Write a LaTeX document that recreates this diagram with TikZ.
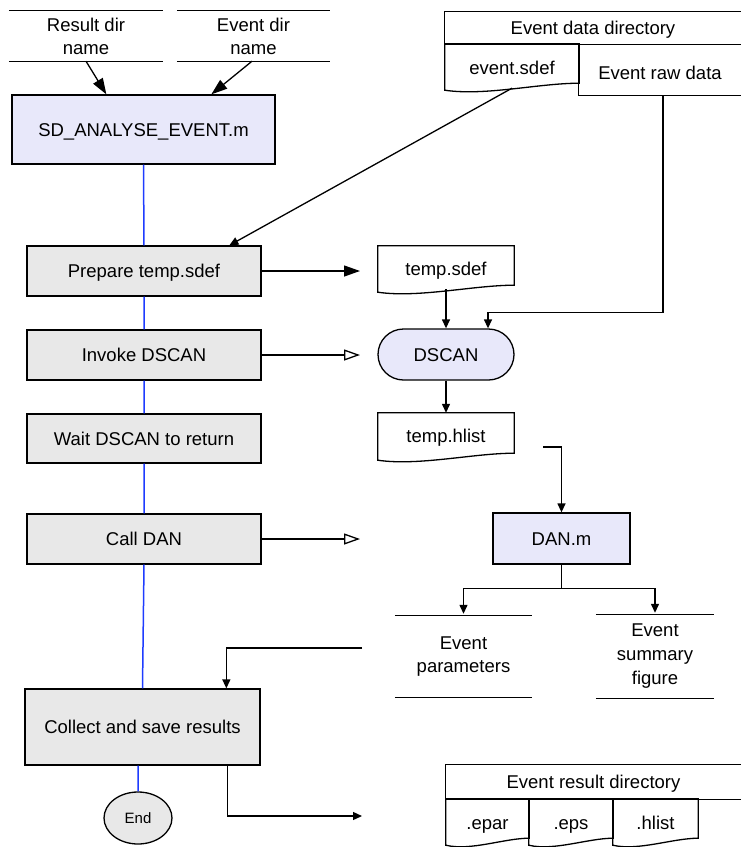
\documentclass[tikz,border=0pt]{standalone}
\usepackage{fontspec}
\setmainfont{Liberation Sans}
\usetikzlibrary{arrows.meta,calc,shapes.misc,shapes.geometric}
\definecolor{procgray}{RGB}{232,232,232}
\definecolor{lav}{RGB}{232,232,250}
\definecolor{flowblue}{RGB}{30,60,255}
\newcommand\docoutline[2]{%
 \draw[ln] (#1.south east) -- (#1.north east) -- (#1.north west) -- ($(#1.south west)+(0,7)$) .. controls ($(#1.south west)+(0.3*#2,13)$) and ($(#1.south east)+(-0.3*#2,0)$) .. (#1.south east) -- cycle;}
\begin{document}
\begin{tikzpicture}[x=1pt,y=-1pt,
  ln/.style={line width=1.3pt},
  mainfont/.style={font=\fontsize{18.5}{23}\selectfont},
  oneline/.style={text height=13.5pt, text depth=0pt},
  doctext/.style={text height=19.5pt, text depth=0pt},
  proc/.style={draw, ln, fill=procgray, inner sep=0pt, mainfont, oneline},
  txt/.style={inner sep=0pt, align=center, mainfont},
  fa/.style={ln, -{Triangle[length=16pt,width=11pt]}},
  oa/.style={ln, -{Triangle[open,length=16pt,width=11pt]}},
  sa/.style={ln, -{Triangle[length=9pt,width=8pt]}}]
\useasboundingbox (0,0) rectangle (741,847);

% inputs
\node[txt, minimum width=154pt, minimum height=50pt] (rdn) at (86,36) {Result dir\\name};
\node[txt, minimum width=153pt, minimum height=50pt] (edn) at (253.5,36) {Event dir\\name};
\draw[ln] (rdn.north west) -- (rdn.north east) (rdn.south west) -- (rdn.south east);
\draw[ln] (edn.north west) -- (edn.north east) (edn.south west) -- (edn.south east);

% main column
\node[proc, fill=lav, minimum width=263pt, minimum height=69pt] (sd) at (143.5,129.5) {SD\_ANALYSE\_EVENT.m};
\node[proc, minimum width=234pt, minimum height=50pt] (prep) at (144,271) {Prepare temp.sdef};
\node[proc, minimum width=234pt, minimum height=50pt] (inv) at (144,355) {Invoke DSCAN};
\node[proc, minimum width=234pt, minimum height=49pt] (wait) at (144,438.5) {Wait DSCAN to return};
\node[proc, minimum width=234pt, minimum height=50pt] (call) at (144,539) {Call DAN};
\node[proc, minimum width=235pt, minimum height=76pt] (coll) at (142.5,727) {Collect and save results};
\node[draw, ln, ellipse, fill=procgray, minimum width=68pt, minimum height=52pt, inner sep=0pt, font=\fontsize{15}{18}\selectfont, text height=11pt, text depth=0pt] (fin) at (138,818) {End};

\draw[line width=1.5pt, flowblue] (sd.south) -- (prep.north) (prep.south) -- (inv.north) (inv.south) -- (wait.north)
  (wait.south) -- (call.north) (call.south) -- (coll.north) (coll.south -| fin.north) -- (fin.north);

% event data directory
\node[txt, oneline, minimum width=296pt, minimum height=32pt] (edd) at (593,28) {Event data directory};
\draw[ln] (edd.north east) -- (edd.north west) -- (edd.south west) -- (edd.south east);
\node[txt, text height=22.5pt, text depth=0pt, minimum width=134pt, minimum height=39pt] (esdef) at (512,63.5) {event.sdef};
\docoutline{esdef}{134}
\node[txt, doctext, minimum width=162pt, minimum height=51pt] (raw) at (660,69.5) {Event raw data};
\draw[ln] (raw.north west) -- (raw.south west) -- (raw.south east);

% right column
\node[txt, doctext, minimum width=136pt, minimum height=39pt] (tsdef) at (446,265.5) {temp.sdef};
\docoutline{tsdef}{136}
\node[draw, ln, rounded rectangle, fill=lav, minimum width=136pt, minimum height=51pt, inner sep=0pt, mainfont, oneline] (dscan) at (446,354.5) {DSCAN};
\node[txt, doctext, minimum width=136pt, minimum height=40pt] (thlist) at (446,433) {temp.hlist};
\docoutline{thlist}{136}
\node[proc, fill=lav, minimum width=137pt, minimum height=51pt] (dan) at (561.5,538.5) {DAN.m};
\node[txt, minimum width=137pt, minimum height=81pt] (ep) at (463.5,656.5) {Event\\parameters};
\draw[ln] (ep.north west) -- (ep.north east) (ep.south west) -- (ep.south east);
\node[txt, minimum width=118pt, minimum height=83pt, font=\fontsize{18.5}{24}\selectfont] (esf) at (655,656.5) {Event\\summary\\figure};
\draw[ln] (esf.north west) -- (esf.north east) (esf.south west) -- (esf.south east);

% event result directory
\node[txt, oneline, minimum width=295pt, minimum height=34pt] (erd) at (593.5,782) {Event result directory};
\draw[ln] (erd.north east) -- (erd.north west) -- (erd.south west) -- (erd.south east);
\node[txt, text height=22pt, text depth=0pt, minimum width=83pt, minimum height=39pt] (epar) at (487.5,818.5) {.epar};
\docoutline{epar}{83}
\node[txt, text height=22pt, text depth=0pt, minimum width=84pt, minimum height=39pt] (eps) at (571,818.5) {.eps};
\docoutline{eps}{84}
\node[txt, text height=22pt, text depth=0pt, minimum width=85pt, minimum height=39pt] (hl) at (655.5,818.5) {.hlist};
\docoutline{hl}{85}

% connectors
\draw[fa] (rdn.south) -- ([xshift=95pt]sd.north west);
\draw[fa] ([xshift=-1.5pt]edn.south) -- ([xshift=200pt]sd.north west);
\draw[sa] ($(esdef.south)+(0,5)$) -- ([xshift=203pt]prep.north west);
\coordinate (c1) at (360,271);
\draw[fa] (prep.east) -- (c1);
\coordinate (c2) at (360,355);
\draw[oa] (inv.east) -- (c2);
\draw[sa] ($(tsdef.south)+(0,4)$) -- (dscan.north);
\draw[sa] ([xshift=3pt]raw.south) |- ($(dscan.north)+(42,-16)$) -- ($(dscan.north)+(42,0)$);
\draw[sa] (dscan.south) -- (thlist.north);
\coordinate (c3) at (543,447);
\draw[sa] (c3) -| (dan.north);
\coordinate (c4) at (360,539);
\draw[oa] (call.east) -- (c4);
\coordinate (br) at ($(dan.south)+(0,24)$);
\draw[ln] (dan.south) -- (br);
\draw[sa, shorten >=2pt] (br) -| (ep.north);
\draw[sa, shorten >=2pt] (br) -| (esf.north);
\coordinate (c5) at (362,648);
\draw[sa] (c5) -| ([xshift=202pt]coll.north west);
\coordinate (c6) at (362,816);
\draw[sa] ([xshift=203pt]coll.south west) |- (c6);
\end{tikzpicture}
\end{document}
